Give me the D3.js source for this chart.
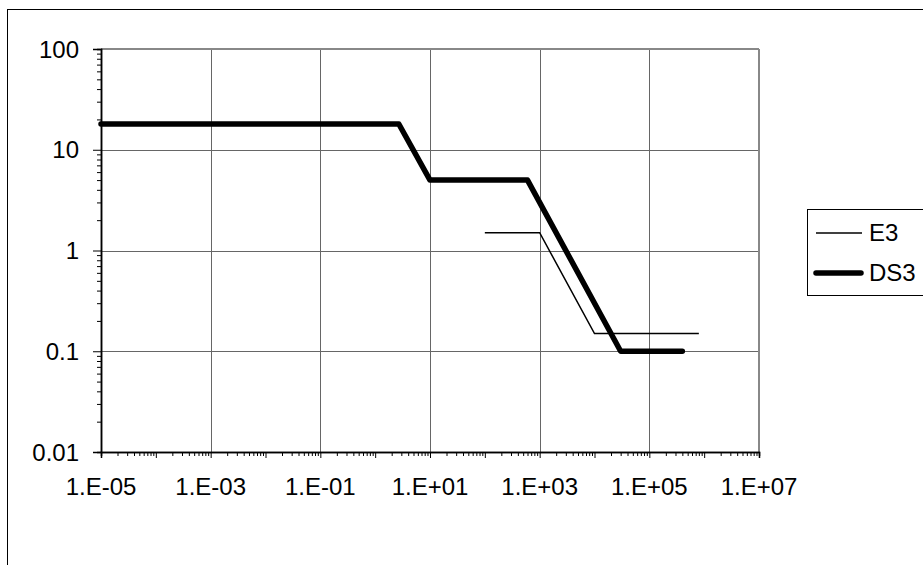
<!DOCTYPE html>
<html><head><meta charset="utf-8">
<script src="https://cdn.jsdelivr.net/npm/d3@7"></script>
<style>body{margin:0;background:#fff}svg{display:block}text{font-family:"Liberation Sans",Arial,sans-serif}</style>
</head><body>
<svg id="c" width="923" height="565"></svg>
<script>
const seriesNames = ["E3", "DS3"];
const e3X = [100, 1000, 10000, 800000];
const e3Y = [1.5, 1.5, 0.15, 0.15];
const ds3X = [1e-5, 2.7, 10, 600, 30000, 400000];
const ds3Y = [18, 18, 5, 5, 0.1, 0.1];
const xTickLabels = ["1.E-05","1.E-03","1.E-01","1.E+01","1.E+03","1.E+05","1.E+07"];
const xTickValues = [1e-5,1e-3,1e-1,1e1,1e3,1e5,1e7];
const yTickLabels = ["0.01","0.1","1","10","100"];
const yTickValues = [0.01,0.1,1,10,100];

const svg = d3.select("#c");
const L=101, R=759, T=49, B=452;
const FS = 24;
const x = d3.scaleLog().domain([1e-5,1e7]).range([L,R]);
const y = d3.scaleLog().domain([0.01,100]).range([B,T]);

// outer frame
svg.append("rect").attr("x",7.5).attr("y",9.5).attr("width",930).attr("height",570)
  .attr("fill","none").attr("stroke","#000").attr("stroke-width",1);

// gridlines
const g = svg.append("g");
[0.1,1,10].forEach(v=>{
  g.append("line").attr("x1",L).attr("x2",R).attr("y1",Math.round(y(v))+0.5).attr("y2",Math.round(y(v))+0.5)
   .attr("stroke","#666").attr("stroke-width",1);
});
[1e-3,1e-1,1e1,1e3,1e5].forEach(v=>{
  g.append("line").attr("y1",T).attr("y2",B).attr("x1",Math.round(x(v))+0.5).attr("x2",Math.round(x(v))+0.5)
   .attr("stroke","#666").attr("stroke-width",1);
});
g.append("line").attr("x1",L).attr("x2",R).attr("y1",T).attr("y2",T).attr("stroke","#888").attr("stroke-width",2);
g.append("line").attr("x1",R).attr("x2",R).attr("y1",T).attr("y2",B).attr("stroke","#888").attr("stroke-width",2);

// axes
const decadesX = d3.range(-5,8).map(e=>Math.pow(10,e));
const minorX = [];
for(let e=-5;e<7;e++) for(let m=2;m<10;m++) minorX.push(m*Math.pow(10,e));
const ax = svg.append("g").attr("transform",`translate(0,${B})`);
ax.append("g").call(d3.axisBottom(x).tickValues(minorX).tickSize(4).tickFormat(""));
ax.append("g").call(d3.axisBottom(x).tickValues(decadesX).tickSize(6).tickFormat(""));
ax.selectAll("path.domain").attr("stroke","#000").attr("stroke-width",1.5);
ax.selectAll(".tick line").attr("stroke","#000");

svg.append("g").selectAll("text").data(xTickValues).join("text")
  .attr("x",d=>x(d)).attr("y",B+43).attr("text-anchor","middle")
  .attr("font-size",FS).text((d,i)=>xTickLabels[i]);

const decadesY = d3.range(-2,3).map(e=>Math.pow(10,e));
const minorY = [];
for(let e=-2;e<2;e++) for(let m=2;m<10;m++) minorY.push(m*Math.pow(10,e));
const ay = svg.append("g").attr("transform",`translate(${L},0)`);
ay.append("g").call(d3.axisLeft(y).tickValues(minorY).tickSize(4).tickFormat(""));
ay.append("g").call(d3.axisLeft(y).tickValues(decadesY).tickSize(8).tickFormat(""));
ay.selectAll("path.domain").attr("stroke","#000").attr("stroke-width",1.5);
ay.selectAll(".tick line").attr("stroke","#000");

svg.append("g").selectAll("text").data(yTickValues).join("text")
  .attr("x",L-22).attr("y",d=>y(d)+8.5).attr("text-anchor","end")
  .attr("font-size",FS).text((d,i)=>yTickLabels[i]);

// series
const line = d3.line().x(d=>x(d[0])).y(d=>y(d[1]));
svg.append("path").datum(e3X.map((v,i)=>[v,e3Y[i]])).attr("d",line)
  .attr("fill","none").attr("stroke","#000").attr("stroke-width",1.5);
svg.append("path").datum(ds3X.map((v,i)=>[v,ds3Y[i]])).attr("d",line)
  .attr("fill","none").attr("stroke","#000").attr("stroke-width",5.5)
  .attr("stroke-linejoin","round").attr("stroke-linecap","round");

// legend
const lg = svg.append("g");
lg.append("rect").attr("x",807.5).attr("y",209.5).attr("width",130).attr("height",86)
  .attr("fill","#fff").attr("stroke","#000").attr("stroke-width",1);
lg.append("line").attr("x1",816).attr("x2",862).attr("y1",233).attr("y2",233).attr("stroke","#000").attr("stroke-width",1.5);
lg.append("line").attr("x1",816).attr("x2",861).attr("y1",273).attr("y2",273).attr("stroke","#000").attr("stroke-width",5.5).attr("stroke-linecap","round");
lg.append("text").attr("x",869).attr("y",241).attr("font-size",FS).text(seriesNames[0]);
lg.append("text").attr("x",869).attr("y",281).attr("font-size",FS).text(seriesNames[1]);
</script>
</body></html>
